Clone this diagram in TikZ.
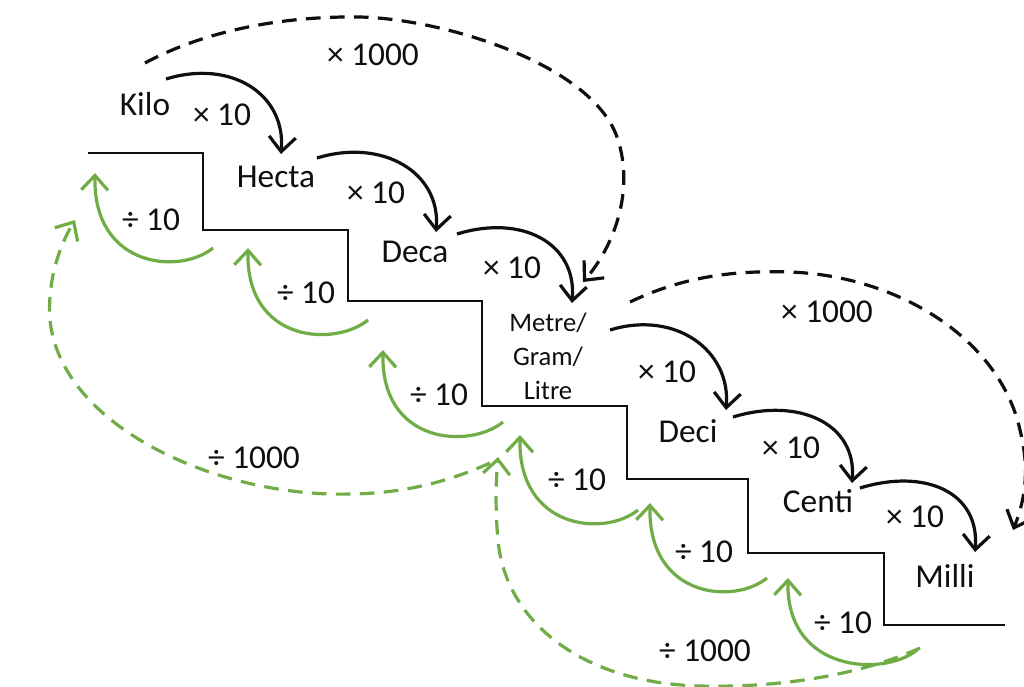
\documentclass[tikz,border=0pt]{standalone}
\usepackage{fontspec}
\setmainfont{Carlito}
\usetikzlibrary{arrows.meta}
\definecolor{grn}{RGB}{112,173,71}
\definecolor{ink}{RGB}{15,15,15}
\begin{document}
\begin{tikzpicture}[x=0.75pt,y=-0.75pt,
  lbl/.style={font=\fontsize{25}{30}\selectfont, text=ink, inner sep=0pt, anchor=base},
  small/.style={font=\fontsize{20}{25.5}\selectfont, text=ink, inner sep=0pt, align=center},
  stair/.style={draw=ink, line width=1.9pt},
  mul/.style={draw=ink, line width=2.4pt, -{Straight Barb[length=11pt,width=20pt]}},
  muldash/.style={mul, dash pattern=on 11pt off 7pt},
  dvd/.style={draw=grn, line width=2.4pt, -{Straight Barb[length=11pt,width=20pt]}},
  dvddash/.style={dvd, dash pattern=on 11pt off 7pt}]
\useasboundingbox[fill=white] (0,0) rectangle (1024,686);

% staircase
\draw[stair] (88,153) -- (203,153) -- (203,230) -- (348,230) -- (348,301) -- (482,301)
  -- (482,406) -- (627,406) -- (627,479) -- (748,479) -- (748,553) -- (884,553)
  -- (884,625) -- (1005,625);

% unit labels
\node[lbl] (kilo)  at (145,115) {Kilo};
\node[lbl] (hecta) at (276,187) {Hecta};
\node[lbl] (deca)  at (415,262) {Deca};
\node[small] (metre) at (548,356) {Metre/\\Gram/\\Litre};
\node[lbl] (deci)  at (688,442) {Deci};
\node[lbl] (centi) at (818,512) {Centi};
\node[lbl] (milli) at (945,587) {Milli};

% factor labels
\node[lbl] (m1) at (222,125) {× 10};
\node[lbl] (m2) at (376,203) {× 10};
\node[lbl] (m3) at (512,278) {× 10};
\node[lbl] (m4) at (667,382) {× 10};
\node[lbl] (m5) at (791,458) {× 10};
\node[lbl] (m6) at (915,527) {× 10};
\node[lbl] (mk1) at (373,65) {× 1000};
\node[lbl] (mk2) at (827,322) {× 1000};
\node[lbl] (d1) at (151,230) {÷ 10};
\node[lbl] (d2) at (306,303) {÷ 10};
\node[lbl] (d3) at (439,405) {÷ 10};
\node[lbl] (d4) at (577,490) {÷ 10};
\node[lbl] (d5) at (704,562) {÷ 10};
\node[lbl] (d6) at (843,633) {÷ 10};
\node[lbl] (dk1) at (254,468) {÷ 1000};
\node[lbl] (dk2) at (705,661) {÷ 1000};

% connector end points
\coordinate (a1s) at (166,79);  \coordinate (a1e) at (281,154);
\coordinate (a2s) at (317,158); \coordinate (a2e) at (436,232);
\coordinate (a3s) at (457,234); \coordinate (a3e) at (572,303);
\coordinate (a4s) at (610,330); \coordinate (a4e) at (726,410);
\coordinate (a5s) at (733,417); \coordinate (a5e) at (852,483);
\coordinate (a6s) at (860,488); \coordinate (a6e) at (975,552);
\coordinate (b1s) at (213,248); \coordinate (b1e) at (95,173);
\coordinate (b2s) at (368,320); \coordinate (b2e) at (248,248);
\coordinate (b3s) at (503,422); \coordinate (b3e) at (383,350);
\coordinate (b4s) at (638,510); \coordinate (b4e) at (520,435);
\coordinate (b5s) at (767,578); \coordinate (b5e) at (650,503);
\coordinate (b6s) at (917,650); \coordinate (b6e) at (788,578);
\coordinate (k1s) at (145,63);  \coordinate (k1e) at (583,282);
\coordinate (k2s) at (630,302); \coordinate (k2e) at (1013,530);
\coordinate (g1s) at (490,463); \coordinate (g1e) at (75,220);
\coordinate (g2s) at (920,648); \coordinate (g2e) at (498,457);

% x10 arrows
\foreach \i in {1,...,6}
  \draw[mul] (a\i s) .. controls +(65,-20) and +(5,-60) .. (a\i e);

% divide by 10 arrows
\foreach \i in {1,...,6}
  \draw[dvd] (b\i s) .. controls +(-33,27) and +(-2,95) .. (b\i e);

% x1000 arrows
\draw[muldash] (k1s) .. controls (210,28) and (290,16) .. (360,17)
  .. controls (445,19) and (595,65) .. (618,140)
  .. controls (634,190) and (615,245) .. (k1e);
\draw[muldash] (k2s) .. controls (680,278) and (730,270) .. (790,272)
  .. controls (900,276) and (1000,340) .. (1020,430)
  .. controls (1030,470) and (1025,500) .. (k2e);

% divide by 1000 arrows
\draw[dvddash] (g1s) .. controls (430,490) and (380,495) .. (330,494)
  .. controls (200,490) and (60,420) .. (50,320)
  .. controls (47,280) and (60,245) .. (g1e);
\draw[dvddash] (g2s) .. controls (860,675) and (780,688) .. (700,686)
  .. controls (580,683) and (505,620) .. (498,540)
  .. controls (495,510) and (496,480) .. (g2e);
\end{tikzpicture}
\end{document}
